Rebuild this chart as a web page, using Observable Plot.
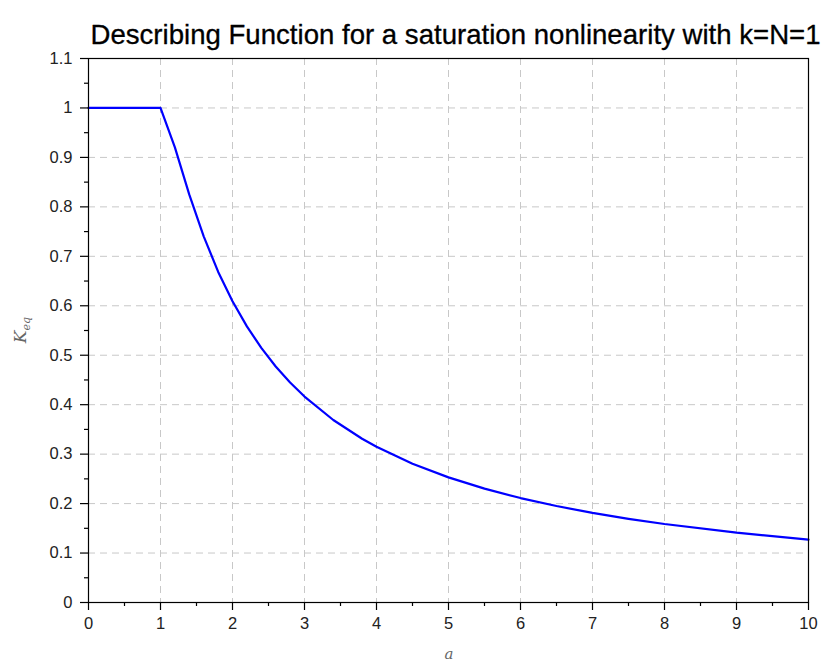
<!DOCTYPE html>
<html>
<head>
<meta charset="utf-8">
<script src="https://cdn.jsdelivr.net/npm/d3@7"></script>
<script src="https://cdn.jsdelivr.net/npm/@observablehq/plot@0.6"></script>
<style>
  html, body { margin: 0; padding: 0; background: #fff; }
  #chart { width: 827px; height: 666px; }
</style>
</head>
<body>
<div id="chart"></div>
<script>
const aValues = [0, 1, 1.2, 1.4, 1.6, 1.8, 2, 2.2, 2.4, 2.6, 2.8, 3, 3.4, 3.8, 4, 4.5, 5, 5.5, 6, 6.5, 7, 7.5, 8, 9, 10];
const keqValues = [1, 1, 0.9204, 0.8247, 0.7404, 0.6690, 0.6090, 0.5583, 0.5148, 0.4773, 0.4449, 0.4164, 0.3690, 0.3312, 0.3150, 0.2806, 0.2530, 0.2302, 0.2112, 0.1951, 0.1812, 0.1692, 0.1587, 0.1412, 0.1271];
const xTicks = [0, 1, 2, 3, 4, 5, 6, 7, 8, 9, 10];
const xMinor = [0.5, 1.5, 2.5, 3.5, 4.5, 5.5, 6.5, 7.5, 8.5, 9.5];
const yTicks = [0, 0.1, 0.2, 0.3, 0.4, 0.5, 0.6, 0.7, 0.8, 0.9, 1, 1.1];
const yMinor = [0.05, 0.15, 0.25, 0.35, 0.45, 0.55, 0.65, 0.75, 0.85, 0.95, 1.05];
const xTickLabels = ["0", "1", "2", "3", "4", "5", "6", "7", "8", "9", "10"];
const yTickLabels = ["0", "0.1", "0.2", "0.3", "0.4", "0.5", "0.6", "0.7", "0.8", "0.9", "1", "1.1"];
const titleText = "Describing Function for a saturation nonlinearity with k=N=1";

const data = aValues.map((a, i) => ({a, k: keqValues[i]}));
const gridX = xTicks.slice(1, -1);
const gridY = yTicks.slice(1, -1);
const xLab = xTicks.map((v, i) => ({v, t: xTickLabels[i]}));
const yLab = yTicks.map((v, i) => ({v, t: yTickLabels[i]}));

const font = "'Liberation Sans', Arial, sans-serif";

const chart = Plot.plot({
  width: 827,
  height: 666,
  marginLeft: 88,
  marginRight: 19,
  marginTop: 58,
  marginBottom: 64,
  style: { fontFamily: font, background: "#fff" },
  x: { domain: [0, 10] },
  y: { domain: [0, 1.1] },
  marks: [
    Plot.ruleX(gridX, { stroke: "#c8c8c8", strokeWidth: 1, strokeDasharray: "7,5" }),
    Plot.ruleY(gridY, { stroke: "#c8c8c8", strokeWidth: 1, strokeDasharray: "7,5" }),
    Plot.line(data, { x: "a", y: "k", stroke: "#0000ff", strokeWidth: 2.2 }),
    Plot.frame({ stroke: "#000", strokeWidth: 1.2 }),
    Plot.axisX(xTicks, { tickSize: 8, text: null, label: null, stroke: "#000", strokeWidth: 1.2 }),
    Plot.axisX(xMinor, { tickSize: 4, text: null, label: null, stroke: "#000", strokeWidth: 1.2 }),
    Plot.axisY(yTicks, { tickSize: 8, text: null, label: null, stroke: "#000", strokeWidth: 1.2 }),
    Plot.axisY(yMinor, { tickSize: 4, text: null, label: null, stroke: "#000", strokeWidth: 1.2 }),
    Plot.text(xLab, { x: "v", text: "t", frameAnchor: "bottom", dy: 26, fontSize: 16.5, fill: "#222", fontFamily: font }),
    Plot.text(yLab, { y: "v", text: "t", frameAnchor: "left", dx: -16, textAnchor: "end", fontSize: 16.5, fill: "#222", fontFamily: font }),
    Plot.text([titleText], { frameAnchor: "top", dx: 7, dy: -34, fontSize: 27.6, fill: "#000", stroke: "#000", strokeWidth: 0.3, fontFamily: font })
  ]
});

document.getElementById("chart").appendChild(chart);

const svg = d3.select(chart);

// axis labels (serif italic, with subscript)
svg.append("text")
  .attr("x", 449).attr("y", 659)
  .attr("text-anchor", "middle")
  .attr("font-family", "'DejaVu Serif', 'Liberation Serif', serif")
  .attr("font-style", "italic")
  .attr("font-size", 15)
  .attr("fill", "#666")
  .text("a");

const yl = svg.append("text")
  .attr("transform", "translate(26,330) rotate(-90)")
  .attr("text-anchor", "middle")
  .attr("font-family", "'DejaVu Serif', 'Liberation Serif', serif")
  .attr("font-style", "italic")
  .attr("font-size", 17)
  .attr("fill", "#666");
yl.append("tspan").text("K");
yl.append("tspan").attr("font-size", 11).attr("dy", 4).text("eq");
</script>
</body>
</html>
